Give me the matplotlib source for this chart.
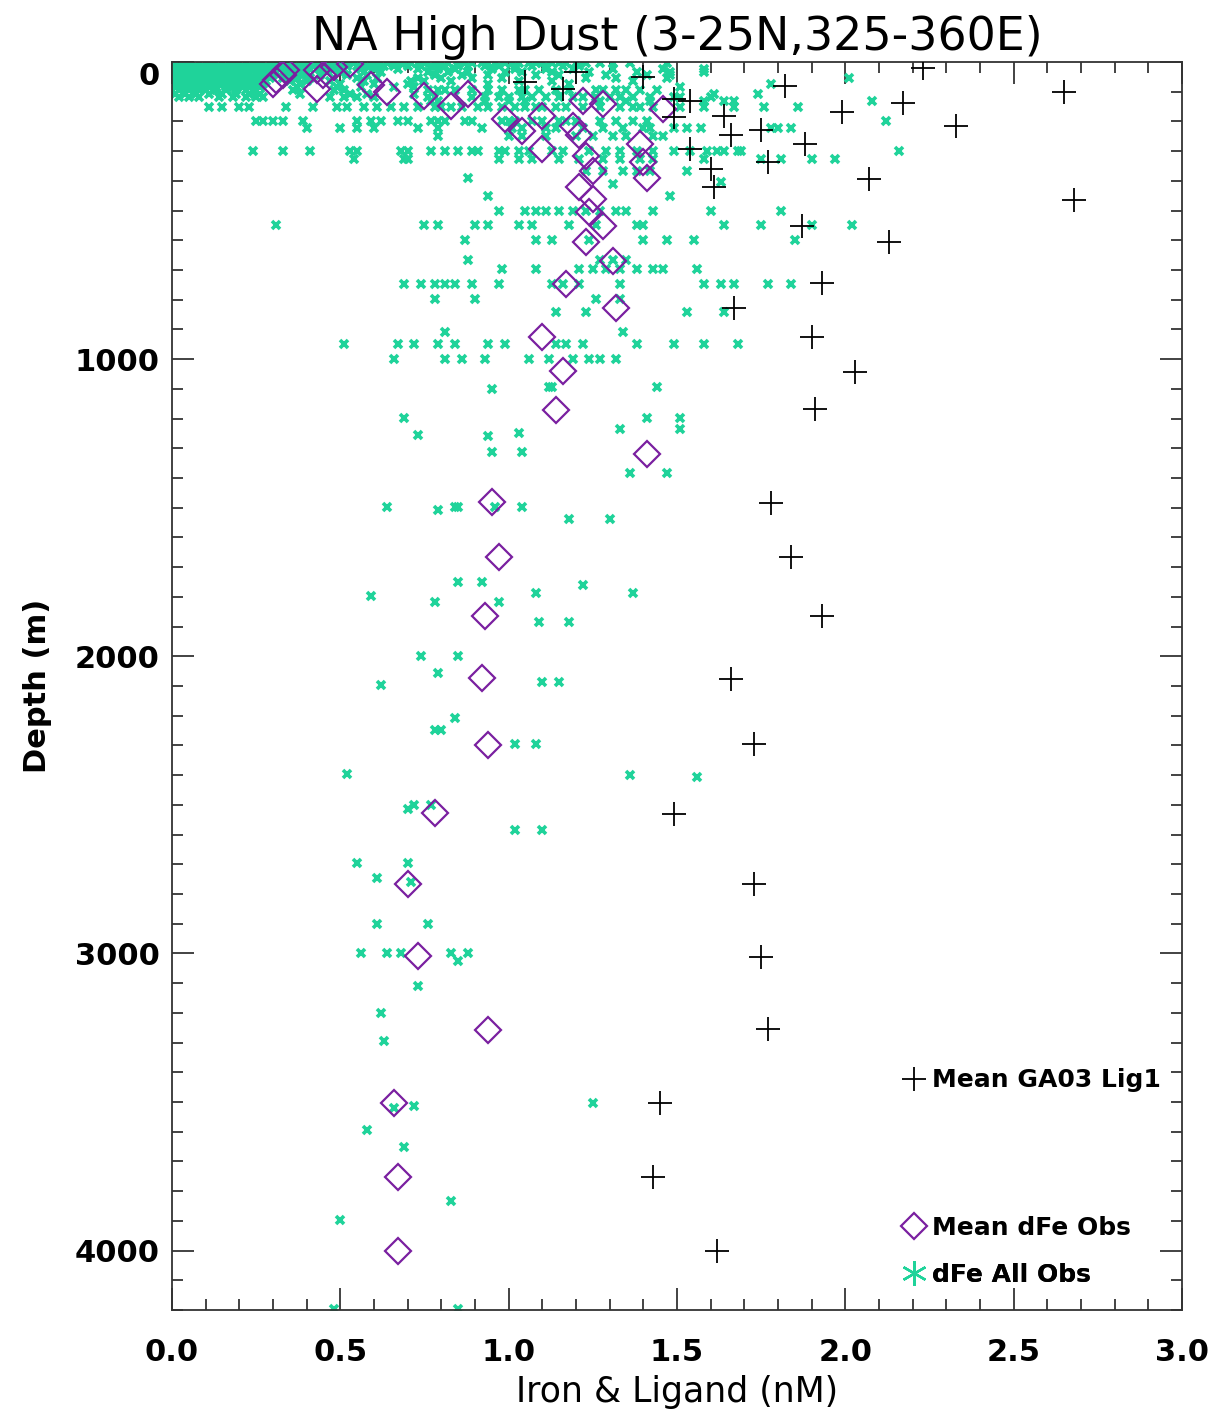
import numpy as np
import matplotlib
matplotlib.use("Agg")
import matplotlib.pyplot as plt
from matplotlib.lines import Line2D
from matplotlib.ticker import MultipleLocator

# mean GA03 ligand profile (nM, m)
lig_x = [2.23, 1.20, 1.05, 1.16, 1.40, 1.49, 1.49, 1.54, 1.54, 1.60, 1.61, 1.82, 1.64, 1.66,
         1.75, 1.88, 1.99, 2.17, 2.33, 2.65, 1.77, 2.07, 2.68, 1.87, 2.13, 1.93, 1.67, 1.90,
         2.03, 1.91, 1.78, 1.84, 1.93, 1.66, 1.73, 1.49, 1.73, 1.75, 1.77, 1.45, 1.43, 1.62]
lig_z = [20, 34, 67, 91, 50, 125, 185, 131, 293, 360, 421, 81, 182, 246,
         229, 276, 168, 138, 215, 101, 337, 394, 465, 552, 606, 744, 828, 926,
         1044, 1168, 1485, 1667, 1865, 2077, 2296, 2532, 2768, 3013, 3256, 3505, 3754, 4000]

# mean dFe obs
mfe_x = [0.30, 0.31, 0.33, 0.34, 0.43, 0.45, 0.48, 0.53, 0.43, 0.59, 0.64, 0.75, 0.83, 0.88,
         0.99, 1.04, 1.10, 1.10, 1.22, 1.28, 1.46, 1.19, 1.21, 1.39, 1.40, 1.23, 1.25, 1.41,
         1.21, 1.25, 1.24, 1.28, 1.23, 1.31, 1.17, 1.32, 1.10, 1.16, 1.14, 1.41, 0.95, 0.97,
         0.93, 0.92, 0.94, 0.78, 0.70, 0.73, 0.94, 0.66, 0.67, 0.67]
mfe_z = [73, 62, 45, 28, 27, 44, 17, 7, 91, 77, 101, 115, 148, 108,
         192, 232, 182, 293, 131, 141, 158, 215, 246, 276, 337, 316, 367, 391,
         421, 461, 505, 552, 606, 670, 747, 828, 926, 1040, 1172, 1320, 1481, 1667,
         1865, 2074, 2300, 2529, 2768, 3010, 3259, 3505, 3751, 4003]

# all dFe obs in the upper 130 m, one row per sampling depth: (depth, [dFe])
obs_surface = [
    (4, [0.01, 0.03, 0.05, 0.08, 0.10, 0.12, 0.15, 0.17, 0.19, 0.22, 0.24, 0.26, 0.29, 0.31,
         0.33, 0.36, 0.38, 0.40, 0.43, 0.45, 0.47, 0.50, 0.52, 0.54, 0.57, 0.59, 0.61, 0.64,
         0.66, 0.68, 0.71, 0.73, 0.75, 0.78, 0.80, 0.82, 0.85, 0.87, 0.89, 0.92, 0.94, 0.96,
         0.99, 1.01, 1.03, 1.06, 1.08, 1.10, 1.13, 1.15, 1.17, 1.20, 1.23, 1.27, 1.31, 1.36,
         1.47]),
    (14, [0.00, 0.02, 0.05, 0.07, 0.09, 0.12, 0.14, 0.16, 0.19, 0.21, 0.23, 0.26, 0.28, 0.30,
          0.33, 0.35, 0.37, 0.40, 0.42, 0.44, 0.47, 0.49, 0.52, 0.55, 0.58, 0.61, 0.63, 0.66,
          0.70, 0.74, 0.77, 0.81, 0.85, 0.88, 0.93, 0.97, 1.02, 1.07, 1.11, 1.16, 1.21]),
    (24, [0.01, 0.03, 0.06, 0.08, 0.10, 0.13, 0.15, 0.17, 0.20, 0.22, 0.24, 0.27, 0.29, 0.32,
          0.35, 0.38, 0.41, 0.44, 0.48, 0.51, 0.56, 0.60, 0.67, 0.73, 0.79, 0.84, 0.95, 1.02,
          1.11, 1.19, 1.31, 1.46, 1.58]),
    (34, [0.00, 0.02, 0.05, 0.07, 0.09, 0.12, 0.14, 0.16, 0.19, 0.21, 0.23, 0.26, 0.28, 0.31,
          0.34, 0.37, 0.40, 0.46, 0.50, 0.57, 0.62, 0.76, 0.82, 0.88, 0.99, 1.04, 1.13, 1.24,
          1.38, 1.48, 1.58]),
    (44, [0.01, 0.03, 0.06, 0.08, 0.10, 0.13, 0.15, 0.17, 0.20, 0.22, 0.25, 0.27, 0.30, 0.36,
          0.39, 0.44, 0.52, 0.58, 0.78, 0.86, 0.94, 1.08, 1.15, 1.29, 1.41, 1.48]),
    (54, [0.00, 0.02, 0.05, 0.07, 0.09, 0.12, 0.14, 0.16, 0.19, 0.21, 0.24, 0.26, 0.29, 0.33,
          0.37, 0.41, 0.48, 0.55, 0.61, 0.73, 0.80, 0.89, 0.98, 1.23, 1.32, 1.47, 2.01]),
    (64, [0.01, 0.03, 0.06, 0.08, 0.10, 0.13, 0.15, 0.17, 0.20, 0.22, 0.25, 0.28, 0.35, 0.40,
          0.47, 0.57, 0.71, 0.75, 0.83, 1.03, 1.13, 1.37]),
    (74, [0.00, 0.02, 0.05, 0.07, 0.09, 0.12, 0.14, 0.17, 0.19, 0.22, 0.24, 0.27, 0.38, 0.50,
          0.60, 0.70, 0.94, 1.18, 1.78]),
    (84, [0.01, 0.03, 0.06, 0.08, 0.11, 0.13, 0.16, 0.18, 0.21, 0.23, 0.26, 0.37, 0.49, 0.56,
          0.66, 0.72, 1.51]),
    (95, [0.00, 0.02, 0.05, 0.08, 0.10, 0.13, 0.16, 0.19, 0.22, 0.24, 0.36, 0.48, 0.51, 0.76,
          0.79, 0.81, 0.84, 0.89, 0.94, 0.98, 1.03, 1.05, 1.09, 1.14, 1.18, 1.26, 1.28, 1.32,
          1.35, 1.39, 1.44]),
    (106, [0.01, 0.04, 0.07, 0.11, 0.15, 0.19, 0.23, 0.26, 0.38, 0.53, 0.58, 0.72, 1.61, 1.74]),
    (118, [0.02, 0.05, 0.08, 0.14, 0.18, 0.22, 0.25, 0.27, 0.47, 0.51, 0.55, 0.60, 0.76, 0.78,
           0.89, 0.93, 0.97, 1.00, 1.04, 1.07, 1.11, 1.15, 1.19, 1.22, 1.26, 1.30, 1.33, 1.37,
           1.42, 1.49, 1.51, 1.60]),
    (130, [0.77, 0.79, 0.93, 1.00, 1.05, 1.27, 1.35, 1.42, 1.58, 1.64, 1.67, 2.08]),
]

# all dFe obs 130-1000 m
obs_upper = [
    (152, [0.11, 0.15, 0.20, 0.23, 0.34, 0.42, 0.49, 0.52, 0.57, 0.61, 0.65, 0.69, 0.73, 0.78,
           0.80, 0.83, 0.86, 0.91, 0.94, 0.98, 1.02, 1.05, 1.08, 1.10, 1.14, 1.17, 1.22, 1.27,
           1.33, 1.37, 1.39, 1.43, 1.51, 1.58, 1.67, 1.76, 1.86]),
    (197, [0.25, 0.27, 0.30, 0.33, 0.39, 0.55, 0.59, 0.62, 0.67, 0.70, 0.77, 0.79, 0.81, 0.87,
           0.89, 0.98, 1.00, 1.02, 1.07, 1.10, 1.15, 1.17, 1.20, 1.27, 1.32, 1.37, 1.41, 2.12]),
    (222, [0.40, 0.50, 0.55, 0.60, 0.73, 0.79, 0.92, 1.01, 1.04, 1.11, 1.14, 1.22, 1.28, 1.34,
           1.40, 1.42, 1.49, 1.53, 1.57, 1.78, 1.80, 1.84]),
    (250, [0.79, 1.00, 1.04, 1.11, 1.20, 1.25, 1.31, 1.35, 1.43, 1.46]),
    (298, [0.24, 0.33, 0.41, 0.53, 0.55, 0.68, 0.70, 0.77, 0.81, 0.85, 0.89, 0.91, 0.97, 0.99,
           1.03, 1.06, 1.13, 1.16, 1.24, 1.29, 1.33, 1.38, 1.43, 1.49, 1.54, 1.59, 1.62, 1.64,
           1.68, 1.69, 2.16]),
    (325, [0.54, 0.69, 0.70, 0.97, 1.03, 1.07, 1.15, 1.21, 1.28, 1.33, 1.39, 1.43, 1.58, 1.75,
           1.81, 1.90, 1.97]),
    (368, [1.23, 1.28, 1.34, 1.38, 1.42, 1.53]),
    (392, [0.88]),
    (404, [1.63]),
    (411, [1.31]),
    (450, [0.94, 1.48]),
    (501, [0.97, 1.05, 1.08, 1.11, 1.15, 1.19, 1.23, 1.27, 1.32, 1.35, 1.43, 1.60, 1.81]),
    (549, [0.31, 0.75, 0.79, 0.90, 0.94, 1.03, 1.07, 1.18, 1.26, 1.38, 1.40, 1.64, 1.75, 1.90,
           2.02]),
    (600, [0.87, 1.08, 1.13, 1.24, 1.40, 1.47, 1.55, 1.85]),
    (667, [0.88, 1.27, 1.31, 1.35]),
    (697, [0.98, 1.08, 1.21, 1.25, 1.29, 1.33, 1.38, 1.43, 1.46, 1.56]),
    (747, [0.69, 0.74, 0.78, 0.81, 0.84, 0.89, 0.97, 1.13, 1.16, 1.21, 1.33, 1.58, 1.63, 1.67,
           1.77, 1.84]),
    (798, [0.78, 0.90, 1.26, 1.33]),
    (842, [1.14, 1.23, 1.53, 1.64]),
    (909, [0.81, 1.34]),
    (949, [0.51, 0.67, 0.72, 0.79, 0.84, 0.94, 0.99, 1.14, 1.17, 1.22, 1.38, 1.49, 1.58, 1.68]),
    (1000, [0.66, 0.81, 0.86, 0.93, 1.06, 1.12, 1.19, 1.24, 1.27, 1.32]),
]

# all dFe obs below 1000 m, single points (dFe, depth)
obs_deep = [
    (0.95, 1101), (1.12, 1095), (1.13, 1095), (1.44, 1095), (0.69, 1199), (0.73, 1256),
    (0.94, 1259), (1.03, 1249), (0.95, 1313), (1.04, 1313), (1.41, 1199), (1.51, 1199),
    (1.33, 1236), (1.51, 1236), (1.36, 1384), (1.47, 1384), (0.64, 1498), (0.79, 1508),
    (0.84, 1498), (0.85, 1498), (0.96, 1498), (1.04, 1498), (1.18, 1539), (1.30, 1539),
    (0.85, 1751), (0.92, 1751), (1.22, 1761), (0.59, 1798), (0.78, 1818), (0.97, 1818),
    (1.08, 1788), (1.37, 1788), (1.09, 1886), (1.18, 1886), (0.74, 2000), (0.85, 2000),
    (0.79, 2057), (0.62, 2098), (1.10, 2088), (1.15, 2088), (0.84, 2209), (0.78, 2249),
    (0.80, 2249), (1.02, 2296), (1.08, 2296), (0.52, 2397), (1.36, 2401), (1.56, 2407),
    (0.70, 2515), (0.72, 2500), (0.77, 2500), (1.02, 2586), (1.10, 2586), (0.55, 2697),
    (0.70, 2697), (0.61, 2747), (0.71, 2760), (0.61, 2902), (0.76, 2902), (0.56, 3000),
    (0.64, 3000), (0.68, 3000), (0.83, 3000), (0.88, 3000), (0.85, 3027), (0.73, 3111),
    (0.62, 3199), (0.63, 3296), (1.25, 3502), (0.66, 3519), (0.72, 3512), (0.58, 3596),
    (0.69, 3650), (0.83, 3835), (0.50, 3896), (0.48, 4197), (0.85, 4197),
]

green = '#1fd39a'
purple = '#7a1fa0'

obs_x = []
obs_z = []
for depth, xs in obs_surface + obs_upper:
    obs_x += xs
    obs_z += [depth] * len(xs)
for x, depth in obs_deep:
    obs_x.append(x)
    obs_z.append(depth)

fig = plt.figure(figsize=(12.12, 14.16), dpi=100)
ax = fig.add_axes([0.1419, 0.0749, 0.8333, 0.8813])

ax.plot(obs_x, obs_z, ls='none', marker='x', ms=5.5, mew=2.6, color=green, zorder=2)
ax.plot(mfe_x, mfe_z, ls='none', marker='D', ms=13, mfc='none', mec=purple, mew=1.6, zorder=3)
ax.plot(lig_x, lig_z, ls='none', marker='+', ms=17, mew=1.3, color='black', zorder=4)

ax.set_xlim(0, 3)
ax.set_ylim(4200, 0)
ax.xaxis.set_major_locator(MultipleLocator(0.5))
ax.xaxis.set_minor_locator(MultipleLocator(0.1))
ax.yaxis.set_major_locator(MultipleLocator(1000))
ax.yaxis.set_minor_locator(MultipleLocator(100))
ax.xaxis.set_major_formatter(lambda v, p: f'{v:.1f}')
ax.yaxis.set_major_formatter(lambda v, p: f'{v:.0f}')

ax.tick_params(which='both', direction='in', top=True, right=True, width=1.2, color='#222222')
ax.tick_params(which='major', length=16)
ax.tick_params(which='minor', length=8)
ax.tick_params(axis='x', which='major', pad=20, labelsize=22)
ax.tick_params(axis='y', which='major', pad=9, labelsize=22)
for lab in ax.get_xticklabels() + ax.get_yticklabels():
    lab.set_fontweight('bold')
fig.canvas.draw()
for lab in ax.get_yticklabels():
    if lab.get_text() == '0':
        lab.set_va('top')
for sp in ax.spines.values():
    sp.set_linewidth(1.3)
    sp.set_color('#333333')

ax.set_title('NA High Dust (3-25N,325-360E)', fontsize=33, pad=9)
ax.set_xlabel('Iron & Ligand (nM)', fontsize=25, labelpad=6)
ax.set_ylabel('Depth (m)', fontsize=22, fontweight='bold', labelpad=16)

# legend entries placed like the original
entries = [
    (Line2D([], [], ls='none', marker='+', ms=17, mew=1.3, color='black'), 'Mean GA03 Lig1', 0.184),
    (Line2D([], [], ls='none', marker='D', ms=13, mfc='none', mec=purple, mew=1.6), 'Mean dFe Obs', 0.066),
    (Line2D([], [], ls='none', marker=(6, 2, 0), ms=18, mew=1.6, color=green), 'dFe All Obs', 0.028),
]
for handle, label, ypos in entries:
    leg = ax.legend([handle], [label], loc='center left', bbox_to_anchor=(0.722, ypos),
                    frameon=False, handlelength=1.0, handletextpad=0.25, borderpad=0,
                    borderaxespad=0, prop={'size': 18, 'weight': 'bold'})
    ax.add_artist(leg)

fig.savefig('out.png', dpi=100)
